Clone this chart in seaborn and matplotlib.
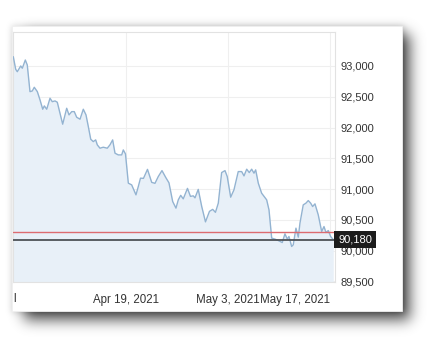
import numpy as np
import pandas as pd
import matplotlib
matplotlib.use("Agg")
import matplotlib.pyplot as plt
import seaborn as sns
from matplotlib.patches import Rectangle
from matplotlib.ticker import FuncFormatter

sns.set_theme(style="white")
plt.rcParams['font.family'] = ['Liberation Sans', 'DejaVu Sans']

# ---- data (days relative to Apr 19, 2021; price) ----
day_offsets = [-15.47, -15.14, -14.92, -14.45, -14.23, -13.82, -13.55, -13.18, -12.86, -12.59,
               -12.17, -11.80, -11.43, -11.21, -10.88, -10.43, -10.12, -9.74, -9.43, -9.06,
               -8.69, -8.14, -7.82, -7.45, -7.10, -6.77, -6.31, -5.86, -5.49, -5.17,
               -4.84, -4.49, -4.16, -3.94, -3.57, -3.12, -2.57, -2.20, -1.83, -1.51,
               -1.06, -0.59, -0.37, -0.07, 0.32, 0.78, 1.37, 1.69, 1.99, 2.40,
               2.95, 3.53, 3.98, 4.43, 4.94, 5.45, 5.90, 6.41, 6.86, 7.18,
               7.51, 7.86, 8.44, 8.85, 9.24, 9.47, 9.92, 10.39, 10.91, 11.46,
               11.90, 12.28, 12.67, 13.13, 13.59, 13.90, 14.37, 14.82, 15.41, 15.88,
               16.20, 16.57, 16.92, 17.25, 17.57, 17.80, 18.16, 18.62, 19.31, 19.63,
               20.00, 20.45, 20.90, 21.45, 21.82, 22.14, 22.37, 22.74, 22.96, 23.33,
               23.65, 23.88, 24.33, 24.70, 25.02, 25.35, 25.62, 25.94, 26.39, 26.86,
               27.18, 27.45, 27.77, 28.09, 28.45]
prices = [93151, 92946, 92907, 93000, 92963, 93097, 93016, 92583, 92594, 92654,
          92583, 92448, 92297, 92351, 92297, 92476, 92420, 92432, 92411, 92232,
          92054, 92313, 92205, 92258, 92258, 92167, 92135, 92297, 92205, 92015,
          91810, 91771, 91799, 91718, 91664, 91680, 91664, 91718, 91799, 91583,
          91555, 91555, 91636, 91571, 91096, 91068, 90906, 91041, 91177, 91174,
          91320, 91109, 91093, 91203, 91300, 91190, 91101, 90797, 90690, 90825,
          90898, 90841, 91011, 90881, 90890, 90857, 90995, 90719, 90467, 90638,
          90670, 90622, 90771, 91268, 91300, 91203, 90868, 90987, 91284, 91284,
          91214, 91323, 91268, 91323, 91258, 91312, 91096, 90933, 90825, 90662,
          90203, 90187, 90164, 90131, 90273, 90187, 90229, 90067, 90094, 90365,
          90219, 90446, 90743, 90771, 90813, 90771, 90716, 90760, 90581, 90310,
          90391, 90294, 90326, 90229, 90180]
last_price = 90180
ref_level = 90300
x_tick_dates = ["2021-04-19", "2021-05-03", "2021-05-17"]
x_tick_labels = ["Apr 19, 2021", "May 3, 2021", "May 17, 2021"]
y_ticks = [89500, 90000, 90500, 91000, 91500, 92000, 92500, 93000]

base = pd.Timestamp("2021-04-19")
df = pd.DataFrame({"date": base + pd.to_timedelta(day_offsets, unit="D"),
                   "price": prices})

W, H = 444, 351
fig = plt.figure(figsize=(W / 100, H / 100), dpi=100)
fig.patch.set_facecolor("white")

# ---- card with drop shadow (decoration) ----
def blur(a, sigma):
    r = int(3 * sigma)
    k = np.exp(-0.5 * (np.arange(-r, r + 1) / sigma) ** 2)
    k /= k.sum()
    a = np.apply_along_axis(lambda m: np.convolve(m, k, mode="same"), 0, a)
    a = np.apply_along_axis(lambda m: np.convolve(m, k, mode="same"), 1, a)
    return a

cx0, cx1, cy0, cy1 = 12, 402, 26, 311
m1 = np.zeros((H, W))
m1[cy0 + 8:cy1 + 9, cx0 + 12:cx1 + 7] = 1
m2 = np.zeros((H, W))
m2[cy0 - 1:cy1 + 2, cx0 - 1:cx1 + 2] = 1
shadow = 1 - 0.68 * blur(m1, 7) - 0.12 * blur(m2, 3)
shadow = np.clip(shadow, 0, 1)

bg = fig.add_axes([0, 0, 1, 1], zorder=0)
bg.imshow(shadow, cmap="gray", vmin=0, vmax=1, extent=[0, W, H, 0],
          aspect="auto", interpolation="bilinear")
bg.add_patch(Rectangle((cx0, cy0), cx1 - cx0, cy1 - cy0, facecolor="white",
                       edgecolor="#f0f0f0", lw=0.6))
bg.set_xlim(0, W)
bg.set_ylim(H, 0)
bg.axis("off")

# ---- main chart ----
ax = fig.add_axes([13 / W, 1 - 282 / H, (335 - 13) / W, (282 - 32) / H], zorder=2)
ax.set_facecolor("white")
ax.fill_between(df["date"], df["price"], 89000, color="#e8f0f8", lw=0, zorder=1)
sns.lineplot(data=df, x="date", y="price", ax=ax, color="#93b3d1",
             linewidth=1.0, zorder=3)
ax.axhline(ref_level, color="#dc6b70", lw=1.0, zorder=4)
ax.axhline(last_price, color="#4d5257", lw=1.3, zorder=4)

ax.set_xlim(base - pd.Timedelta(days=15.51), base + pd.Timedelta(days=28.69))
ax.set_ylim(89490, 93552)

ax.grid(True, color="#efefef", lw=0.8)
ax.set_axisbelow(True)
for s in ax.spines.values():
    s.set_color("#e2e2e2")
    s.set_linewidth(0.8)

ax.yaxis.tick_right()
ax.set_yticks(y_ticks)
ax.yaxis.set_major_formatter(FuncFormatter(lambda v, p: f"{v:,.0f}"))
ax.tick_params(axis="y", length=0, pad=4, labelsize=8, labelcolor="#333333")

ax.set_xticks(pd.to_datetime(x_tick_dates))
ax.set_xticklabels(x_tick_labels)
ax.tick_params(axis="x", length=0, pad=9, labelsize=8.3, labelcolor="#333333")
xl = ax.get_xticklabels()
xl[-1].set_ha("right")
ax.set_xlabel("")
ax.set_ylabel("")

ax.annotate(f"{last_price:,}", xy=(1.0, last_price),
            xycoords=("axes fraction", "data"), xytext=(2.2, 0),
            textcoords="offset points", ha="left", va="center",
            color="white", fontsize=8,
            bbox=dict(boxstyle="square,pad=0.34", fc="#1c1c1c", ec="none"),
            annotation_clip=False, zorder=10)

fig.text(13 / W, 1 - 299 / H, "l", ha="left", va="center", fontsize=8.3,
         color="#333333")

fig.savefig("out.png", dpi=100)
